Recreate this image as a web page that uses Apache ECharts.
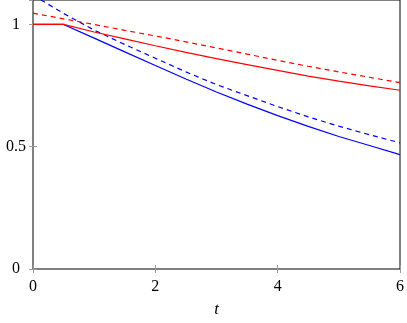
<!DOCTYPE html>
<html>
<head>
<meta charset="utf-8">
<script src="https://cdn.jsdelivr.net/npm/echarts@6/dist/echarts.min.js"></script>
<style>
  html, body { margin: 0; padding: 0; background: #fff; }
  #chart { width: 407px; height: 323px; }
</style>
</head>
<body>
<div id="chart"></div>
<script>
// sample times
const t = [0, 0.5, 1, 1.5, 2, 2.5, 3, 3.5, 4, 4.5, 5, 5.5, 6]

const redSolid   = [1, 1, 0.969, 0.941, 0.913, 0.886, 0.86, 0.836, 0.812, 0.789, 0.768, 0.749, 0.731]
const redDashed  = [1.046, 1.023, 1.0, 0.976, 0.953, 0.929, 0.904, 0.879, 0.853, 0.829, 0.806, 0.784, 0.762]
const blueSolid  = [1, 1, 0.944, 0.888, 0.832, 0.777, 0.724, 0.674, 0.627, 0.583, 0.542, 0.505, 0.468]
const blueDashed = [1.12, 1.045, 0.977, 0.918, 0.862, 0.806, 0.754, 0.709, 0.664, 0.622, 0.584, 0.549, 0.516]

const xTicks = [0, 2, 4, 6]
const yTicks = [0, 0.5, 1]

const FONT = { color: '#000', fontSize: 16, fontFamily: 'Liberation Serif' }
const TICK = { show: true, inside: true, length: 4, lineStyle: { color: '#999', width: 1 } }

const chart = echarts.init(document.getElementById('chart'))

function line(name, ys, color, dashed) {
  return {
    name,
    type: 'line',
    data: t.map((x, i) => [x, ys[i]]),
    showSymbol: false,
    clip: true,
    lineStyle: { color, width: 1.2, type: dashed ? [5, 4] : 'solid' },
    silent: true
  }
}

chart.setOption({
  animation: false,
  grid: { left: 33, right: 5, top: 0, bottom: 46, show: true, borderColor: '#000', borderWidth: 1 },
  xAxis: [
    {
      type: 'value', min: 0, max: 6, interval: 2,
      name: 't', nameLocation: 'middle', nameGap: 32,
      nameTextStyle: { ...FONT, fontStyle: 'italic', fontSize: 17 },
      axisLine: { show: false },
      axisTick: TICK,
      axisLabel: { ...FONT, margin: 10, formatter: v => xTicks.includes(v) ? String(v) : '' },
      splitLine: { show: false }
    },
    {
      type: 'value', min: 0, max: 6, interval: 2, position: 'top',
      axisLine: { show: false }, axisTick: TICK, axisLabel: { show: false }, splitLine: { show: false }
    }
  ],
  yAxis: [
    {
      type: 'value', min: 0, max: 1.1, interval: 0.5,
      axisLine: { show: false },
      axisTick: TICK,
      axisLabel: { ...FONT, margin: 17, align: 'center', showMaxLabel: false,
        formatter: v => yTicks.includes(v) ? String(v) : '' },
      splitLine: { show: false }
    },
    {
      type: 'value', min: 0, max: 1.1, interval: 0.5, position: 'right',
      axisLine: { show: false }, axisTick: TICK, axisLabel: { show: false }, splitLine: { show: false }
    }
  ],
  series: [
    line('blue dashed', blueDashed, '#0000ff', true),
    line('blue solid', blueSolid, '#0000ff', false),
    line('red dashed', redDashed, '#ff0000', true),
    line('red solid', redSolid, '#ff0000', false)
  ]
})
</script>
</body>
</html>
